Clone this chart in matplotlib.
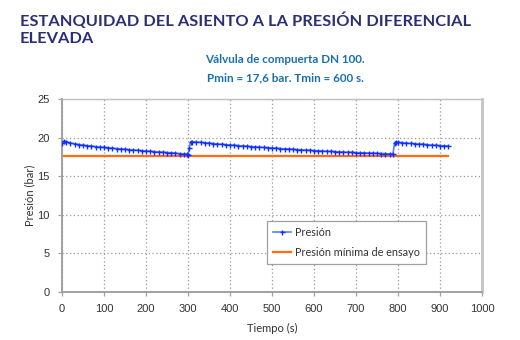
import matplotlib

matplotlib.use("Agg")
import matplotlib.pyplot as plt

# Presión registrada durante el ensayo (s, bar)
tiempo = [
    0, 5, 10, 20, 30, 40, 50, 60, 70, 80, 90, 100, 110, 120, 130, 140, 150,
    160, 170, 180, 190, 200, 210, 220, 230, 240, 250, 260, 270, 280, 290, 298,
    300, 303, 306,
    310, 320, 330, 340, 350, 360, 370, 380, 390, 400, 410, 420, 430, 440, 450,
    460, 470, 480, 490, 500, 510, 520, 530, 540, 550, 560, 570, 580, 590, 600,
    610, 620, 630, 640, 650, 660, 670, 680, 690, 700, 710, 720, 730, 740, 750,
    760, 770, 780, 788,
    792, 795, 800, 810, 820, 830, 840, 850, 860, 870, 880, 890, 900, 910, 920,
]
presion = [
    19.25, 19.55, 19.45, 19.3, 19.2, 19.1, 19.02, 18.95, 18.9, 18.84, 18.78,
    18.73, 18.68, 18.63, 18.58, 18.53, 18.48, 18.44, 18.4, 18.35, 18.3, 18.26,
    18.22, 18.18, 18.14, 18.1, 18.06, 18.02, 17.98, 17.93, 17.88, 17.82,
    17.8, 18.6, 19.45,
    19.45, 19.42, 19.38, 19.33, 19.28, 19.23, 19.18, 19.13, 19.08, 19.04, 19.0,
    18.96, 18.92, 18.88, 18.84, 18.8, 18.76, 18.72, 18.69, 18.65, 18.62, 18.58,
    18.55, 18.52, 18.48, 18.45, 18.42, 18.38, 18.35, 18.32, 18.29, 18.26, 18.23,
    18.2, 18.18, 18.15, 18.13, 18.1, 18.08, 18.06, 18.04, 18.02, 18.0, 17.98,
    17.96, 17.94, 17.92, 17.9, 17.88,
    19.35, 19.4, 19.38, 19.33, 19.28, 19.24, 19.2, 19.16, 19.12, 19.08, 19.04,
    19.0, 18.97, 18.93, 18.9,
]

# Presión mínima de ensayo
p_min = 17.6
t_ensayo = [0, 920]

titulo = "ESTANQUIDAD DEL ASIENTO A LA PRESIÓN DIFERENCIAL\nELEVADA"
subtitulo = "Válvula de compuerta DN 100.\nPmin = 17,6 bar. Tmin = 600 s."

HUMAN = ["Lato", "DejaVu Sans"]
NAVY = "#2b2f78"
SUB = "#1a6fae"
GRID = "#9a9a9a"

fig = plt.figure(figsize=(5.2, 3.4), dpi=100)
ax = fig.add_axes([0.1192, 0.1412, 0.8077, 0.5676])

ax.plot(tiempo, presion, "-", color="#5b7cff", lw=1.2, marker="+", ms=3.6,
        mew=1.0, mec="#1030ff", label="Presión", zorder=3)
ax.plot(t_ensayo, [p_min, p_min], "-", color="#ff6a13", lw=1.6,
        label="Presión mínima de ensayo", zorder=2)

ax.set_xlim(0, 1000)
ax.set_ylim(0, 25)
ax.set_xticks(range(0, 1001, 100))
ax.set_yticks(range(0, 26, 5))
ax.grid(True, ls=(0, (1, 2)), color=GRID, lw=0.9)
ax.set_axisbelow(True)

for side in ("left", "bottom"):
    ax.spines[side].set_color("#a0a0a0")
    ax.spines[side].set_linewidth(1.4)
ax.spines["top"].set_color("#c0c0c0")
ax.spines["top"].set_linewidth(1.0)
ax.spines["right"].set_color("#c4c4c4")
ax.spines["right"].set_linewidth(2.0)

ax.tick_params(axis="both", length=3, width=0.9, color="#a0a0a0",
               labelsize=8, labelcolor="#333333", pad=6)
for lab in ax.get_xticklabels() + ax.get_yticklabels():
    lab.set_family(["Liberation Sans", "DejaVu Sans"])

ax.set_xlabel("Tiempo (s)", family=HUMAN, fontsize=8, color="#333333", labelpad=6)
ax.set_ylabel("Presión (bar)", family=HUMAN, fontsize=8, color="#333333", labelpad=1)

leg = ax.legend(loc="lower left", bbox_to_anchor=(0.488, 0.145, 0.379, 0.2),
                mode="expand", borderaxespad=0, prop={"family": HUMAN, "size": 7.8},
                handlelength=1.7, handletextpad=0.3, borderpad=0.55, labelspacing=0.85,
                fancybox=False, framealpha=1, edgecolor="#a0a0a0")
leg.get_frame().set_linewidth(0.9)
for txt in leg.get_texts():
    txt.set_color("#333333")

fig.text(0.038, 0.962, titulo, family=HUMAN, fontsize=11.8, fontweight="bold",
         color=NAVY, va="top", ha="left", linespacing=1.25)
fig.text(0.548, 0.84, subtitulo, family=HUMAN, fontsize=8.4, fontweight="bold",
         color=SUB, va="top", ha="center", linespacing=1.75)

fig.savefig("out.png", dpi=100)
